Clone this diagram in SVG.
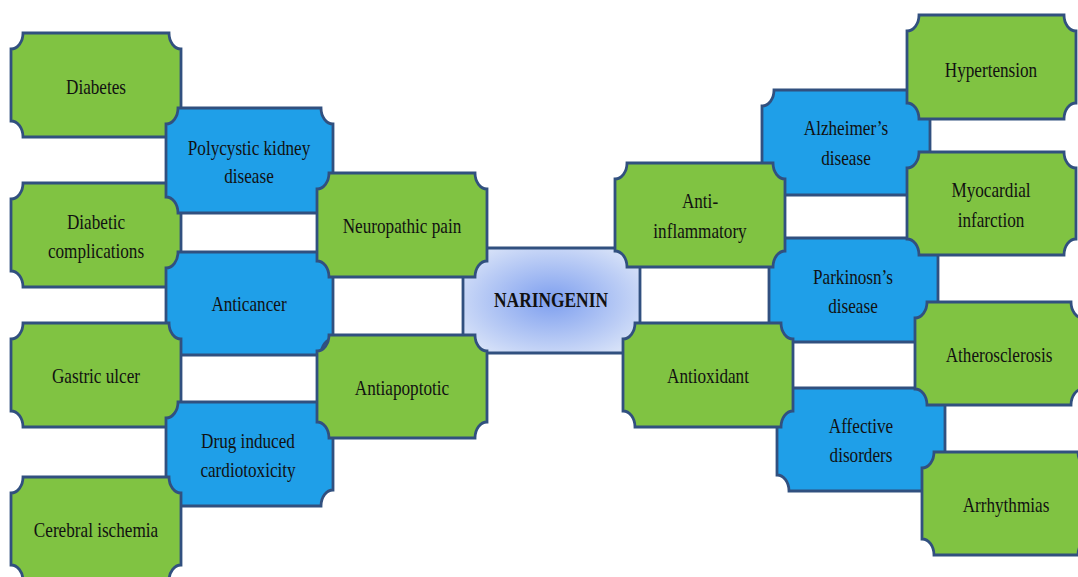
<svg xmlns="http://www.w3.org/2000/svg" width="1078" height="577" viewBox="0 0 1078 577">
<style>
.g{fill:#80c342;stroke:#31507f;stroke-width:2.8}
.b{fill:#1f9fe8;stroke:#31507f;stroke-width:2.8}
.c{fill:url(#cg);stroke:#31507f;stroke-width:2.8}
text{font-family:"Liberation Serif","Times New Roman",serif;font-size:22px;fill:#111;text-anchor:middle}
.bold{font-weight:bold}
</style>
<defs>
<radialGradient id="cg" cx="0.5" cy="0.5" r="0.6">
<stop offset="0" stop-color="#7e9fef"/>
<stop offset="1" stop-color="#d6e1f8"/>
</radialGradient>
</defs>
<rect width="1078" height="577" fill="#fff"/>
<g id="connectors"/>
<g id="diabetes"><path class="g" d="M23,33 H169 A12 16 0 0 0 181,49 V121 A12 16 0 0 0 169,137 H23 A12 16 0 0 0 11,121 V49 A12 16 0 0 0 23,33 Z"/><text transform="translate(96,94) scale(0.78,1)">Diabetes</text></g>
<g id="diabetic-complications"><path class="g" d="M23,183 H169 A12 16 0 0 0 181,199 V271 A12 16 0 0 0 169,287 H23 A12 16 0 0 0 11,271 V199 A12 16 0 0 0 23,183 Z"/><text transform="translate(96,229) scale(0.78,1)"><tspan x="0">Diabetic</tspan><tspan x="0" dy="29">complications</tspan></text></g>
<g id="polycystic"><path class="b" d="M178,108 H321 A12 16 0 0 0 333,124 V197 A12 16 0 0 0 321,213 H178 A12 16 0 0 0 166,197 V124 A12 16 0 0 0 178,108 Z"/><text transform="translate(249,155) scale(0.78,1)"><tspan x="0">Polycystic  kidney</tspan><tspan x="0" dy="28">disease</tspan></text></g>
<g id="anticancer"><path class="b" d="M178,252 H321 A12 16 0 0 0 333,268 V339 A12 16 0 0 0 321,355 H178 A12 16 0 0 0 166,339 V268 A12 16 0 0 0 178,252 Z"/><text transform="translate(249,311) scale(0.78,1)">Anticancer</text></g>
<g id="gastric-ulcer"><path class="g" d="M23,323 H169 A12 16 0 0 0 181,339 V411 A12 16 0 0 0 169,427 H23 A12 16 0 0 0 11,411 V339 A12 16 0 0 0 23,323 Z"/><text transform="translate(96,383) scale(0.78,1)">Gastric  ulcer</text></g>
<g id="drug-induced"><path class="b" d="M178,402 H321 A12 16 0 0 0 333,418 V490 A12 16 0 0 0 321,506 H178 A12 16 0 0 0 166,490 V418 A12 16 0 0 0 178,402 Z"/><text transform="translate(248,448) scale(0.78,1)"><tspan x="0">Drug  induced</tspan><tspan x="0" dy="29">cardiotoxicity</tspan></text></g>
<g id="cerebral-ischemia"><path class="g" d="M23,477 H169 A12 16 0 0 0 181,493 V565 A12 16 0 0 0 169,581 H23 A12 16 0 0 0 11,565 V493 A12 16 0 0 0 23,477 Z"/><text transform="translate(96,537) scale(0.78,1)">Cerebral  ischemia</text></g>
<g id="naringenin"><path class="c" d="M477,248 H626 A14 14 0 0 0 640,262 V339 A14 14 0 0 0 626,353 H477 A14 14 0 0 0 463,339 V262 A14 14 0 0 0 477,248 Z"/><text class="bold" transform="translate(551,307) scale(0.79,1)">NARINGENIN</text></g>
<g id="neuropathic-pain"><path class="g" d="M329,173 H475 A12 16 0 0 0 487,189 V261 A12 16 0 0 0 475,277 H329 A12 16 0 0 0 317,261 V189 A12 16 0 0 0 329,173 Z"/><text transform="translate(402,233) scale(0.78,1)">Neuropathic  pain</text></g>
<g id="antiapoptotic"><path class="g" d="M329,335 H475 A12 16 0 0 0 487,351 V422 A12 16 0 0 0 475,438 H329 A12 16 0 0 0 317,422 V351 A12 16 0 0 0 329,335 Z"/><text transform="translate(402,395) scale(0.78,1)">Antiapoptotic</text></g>
<g id="alzheimers"><path class="b" d="M774,90 H918 A12 16 0 0 0 930,106 V179 A12 16 0 0 0 918,195 H774 A12 16 0 0 0 762,179 V106 A12 16 0 0 0 774,90 Z"/><text transform="translate(846,135) scale(0.78,1)"><tspan x="0">Alzheimer’s</tspan><tspan x="0" dy="30">disease</tspan></text></g>
<g id="parkinsons"><path class="b" d="M781,238 H926 A12 16 0 0 0 938,254 V326 A12 16 0 0 0 926,342 H781 A12 16 0 0 0 769,326 V254 A12 16 0 0 0 781,238 Z"/><text transform="translate(853,284) scale(0.78,1)"><tspan x="0">Parkinosn’s</tspan><tspan x="0" dy="29">disease</tspan></text></g>
<g id="affective-disorders"><path class="b" d="M789,388 H933 A12 16 0 0 0 945,404 V475 A12 16 0 0 0 933,491 H789 A12 16 0 0 0 777,475 V404 A12 16 0 0 0 789,388 Z"/><text transform="translate(861,433) scale(0.78,1)"><tspan x="0">Affective</tspan><tspan x="0" dy="29">disorders</tspan></text></g>
<g id="anti-inflammatory"><path class="g" d="M627,163 H773 A12 16 0 0 0 785,179 V251 A12 16 0 0 0 773,267 H627 A12 16 0 0 0 615,251 V179 A12 16 0 0 0 627,163 Z"/><text transform="translate(700,208) scale(0.78,1)"><tspan x="0">Anti-</tspan><tspan x="0" dy="30">inflammatory</tspan></text></g>
<g id="antioxidant"><path class="g" d="M635,323 H781 A12 16 0 0 0 793,339 V411 A12 16 0 0 0 781,427 H635 A12 16 0 0 0 623,411 V339 A12 16 0 0 0 635,323 Z"/><text transform="translate(708,383) scale(0.78,1)">Antioxidant</text></g>
<g id="hypertension"><path class="g" d="M919,15 H1064 A12 16 0 0 0 1076,31 V103 A12 16 0 0 0 1064,119 H919 A12 16 0 0 0 907,103 V31 A12 16 0 0 0 919,15 Z"/><text transform="translate(991,77) scale(0.78,1)">Hypertension</text></g>
<g id="myocardial-infarction"><path class="g" d="M919,152 H1064 A12 16 0 0 0 1076,168 V239 A12 16 0 0 0 1064,255 H919 A12 16 0 0 0 907,239 V168 A12 16 0 0 0 919,152 Z"/><text transform="translate(991,197) scale(0.78,1)"><tspan x="0">Myocardial</tspan><tspan x="0" dy="30">infarction</tspan></text></g>
<g id="atherosclerosis"><path class="g" d="M927,302 H1071 A12 16 0 0 0 1083,318 V389 A12 16 0 0 0 1071,405 H927 A12 16 0 0 0 915,389 V318 A12 16 0 0 0 927,302 Z"/><text transform="translate(999,362) scale(0.78,1)">Atherosclerosis</text></g>
<g id="arrhythmias"><path class="g" d="M934,452 H1078 A12 16 0 0 0 1090,468 V539 A12 16 0 0 0 1078,555 H934 A12 16 0 0 0 922,539 V468 A12 16 0 0 0 934,452 Z"/><text transform="translate(1006,512) scale(0.78,1)">Arrhythmias</text></g>
</svg>
